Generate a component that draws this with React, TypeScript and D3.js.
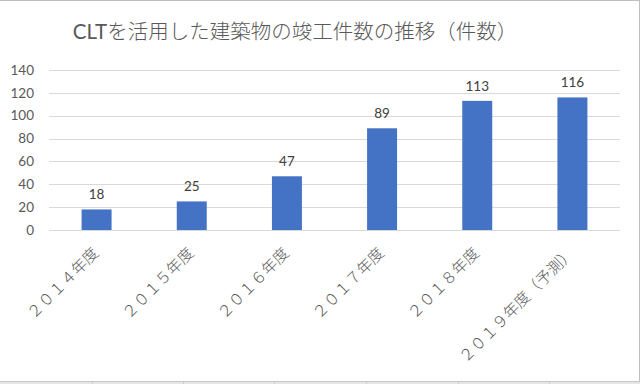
import React from "react";
import * as d3 from "d3";

const categories = ["２０１４年度", "２０１５年度", "２０１６年度", "２０１７年度", "２０１８年度", "２０１９年度（予測）"];
const values = [18, 25, 47, 89, 113, 116];
const yTicks = [0, 20, 40, 60, 80, 100, 120, 140];
const titleLatin = "CLT";
const titleRest = "を活用した建築物の竣工件数の推移（件数）";

const W = 640;
const H = 384;
const left = 49;
const right = 620;
const top = 70;
const bottom = 230;

export default function App() {
  const x = d3.scaleBand<string>().domain(categories).range([left, right]).paddingInner(0.685).paddingOuter(0.3425);
  const y = d3.scaleLinear().domain([0, 140]).range([bottom, top]);
  const textColor = "#595959";
  const cjk = "Lato, 'Noto Sans CJK JP', sans-serif";
  const cells = [92, 183, 274, 366, 458, 549];
  return (
    <svg width={W} height={H} style={{ position: "fixed", left: 0, top: 0, display: "block", background: "#fff" }}>
      <rect x={0} y={0} width={W} height={H} fill="#fff" />
      <rect x={0} y={382} width={W} height={2} fill="#e6e6e6" />
      {cells.map((c) => (
        <line key={c} x1={c + 0.5} x2={c + 0.5} y1={382} y2={384} stroke="#cfcfcf" />
      ))}
      <line x1={0} x2={W} y1={0.5} y2={0.5} stroke="#bfbfbf" />
      <line x1={639.5} x2={639.5} y1={0} y2={381.5} stroke="#bfbfbf" />
      <line x1={0} x2={W} y1={381.5} y2={381.5} stroke="#c8c8c8" />
      <text x={295} y={39} textAnchor="middle" fontSize={20.5} fill={textColor} fontFamily={cjk}>
        <tspan fontWeight={400}>{titleLatin}</tspan>
        <tspan fontWeight={300}>{titleRest}</tspan>
      </text>
      {yTicks.map((t) => (
        <g key={t}>
          <line x1={left} x2={right} y1={Math.round(y(t)) + 0.5} y2={Math.round(y(t)) + 0.5} stroke="#d9d9d9" strokeWidth={1} />
          <text x={34} y={y(t)} dy="0.35em" textAnchor="end" fontSize={13.5} fill={textColor} fontFamily={cjk}>
            {t}
          </text>
        </g>
      ))}
      {categories.map((c, i) => (
        <g key={c}>
          <rect x={x(c)} y={y(values[i])} width={x.bandwidth()} height={y(0) - y(values[i])} fill="#4472C4" />
          <text
            x={(x(c) as number) + x.bandwidth() / 2}
            y={y(values[i]) - 10}
            textAnchor="middle"
            fontSize={13.5}
            fill="#404040"
            fontFamily={cjk}
          >
            {values[i]}
          </text>
          <text
            transform={`translate(${(x(c) as number) + x.bandwidth() / 2 + 3},${bottom + 24}) rotate(-45)`}
            textAnchor="end"
            fontSize={15.5}
            fontWeight={300}
            fill={textColor}
            fontFamily="'Noto Sans CJK JP', sans-serif"
          >
            {c}
          </text>
        </g>
      ))}
    </svg>
  );
}
